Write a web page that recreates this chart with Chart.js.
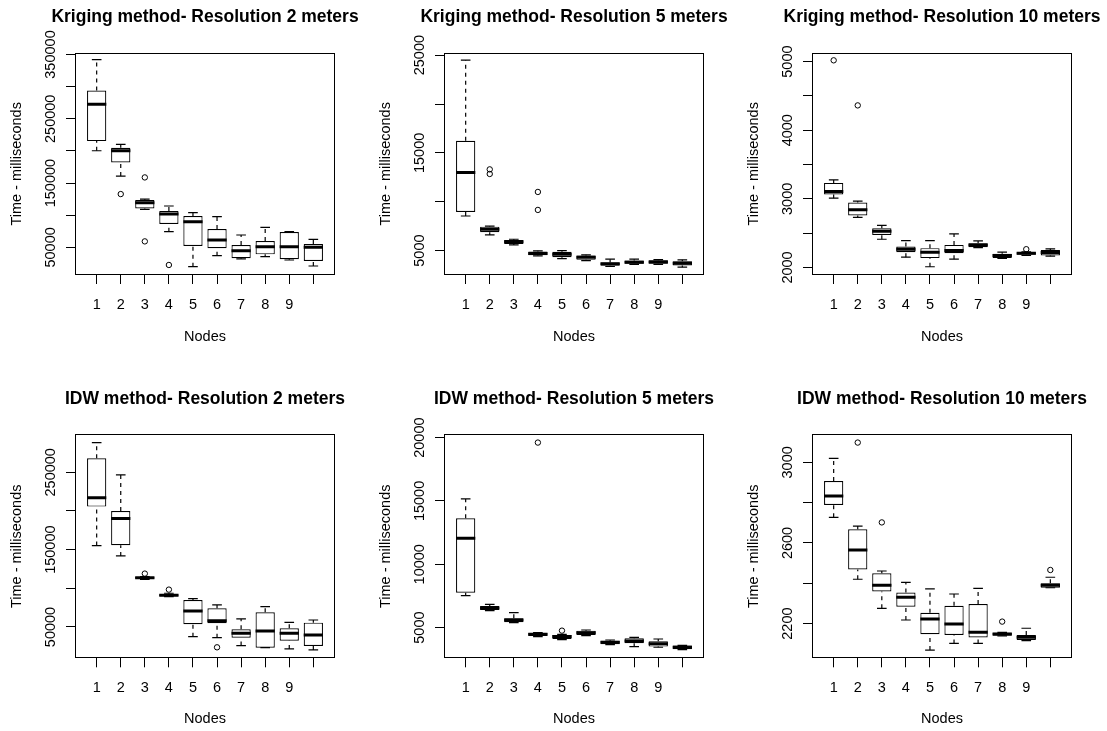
<!DOCTYPE html>
<html>
<head>
<meta charset="UTF-8">
<title>Kriging / IDW - time per node</title>
<script src="https://cdn.jsdelivr.net/npm/chart.js@4.4.0/dist/chart.umd.min.js"></script>
<style>
  body { margin: 0; background: #fff; overflow: hidden; }
  #grid { position: relative; width: 1107px; height: 731px; overflow: hidden; }
  /* canvases are a bit wider than a panel so the title centres over the plot box */
  .panel { position: absolute; width: 410px; height: 365px; }
</style>
</head>
<body>
<div id="grid">
  <div class="panel" style="left:0;top:0"><canvas id="k2" width="410" height="365"></canvas></div>
  <div class="panel" style="left:369px;top:0"><canvas id="k5" width="410" height="365"></canvas></div>
  <div class="panel" style="left:737px;top:0"><canvas id="k10" width="410" height="365"></canvas></div>
  <div class="panel" style="left:0;top:382px"><canvas id="i2" width="410" height="365"></canvas></div>
  <div class="panel" style="left:369px;top:382px"><canvas id="i5" width="410" height="365"></canvas></div>
  <div class="panel" style="left:737px;top:382px"><canvas id="i10" width="410" height="365"></canvas></div>
</div>
<script>
// nodes on the x axis (the 10th tick has no label in the original)
const nodes = [1, 2, 3, 4, 5, 6, 7, 8, 9, 10];
const nodeLabels = ['1', '2', '3', '4', '5', '6', '7', '8', '9', ''];

// Kriging, 2 m
const k2Lo  = [200300, 160900, 109000, 74400, 20000, 37100, 32000, 35500, 30300, 21000];
const k2Q1  = [215300, 182100, 110600, 86300, 52100, 48500, 33000, 39100, 31400, 28800];
const k2Med = [272800, 200300, 119400, 101800, 90000, 61400, 44800, 51000, 51000, 50000];
const k2Q3  = [294000, 204900, 123600, 106500, 98700, 78500, 53600, 59900, 74000, 55200];
const k2Hi  = [342000, 210100, 125000, 114300, 103900, 97700, 69200, 81100, 74400, 62500];
const k2Out = [[2, 132900], [3, 158800], [3, 59300], [4, 22600]];
const k2Ticks = [50000, 100000, 150000, 200000, 250000, 300000, 350000];
const k2Shown = [50000, 150000, 250000, 350000];

// Kriging, 5 m
const k5Lo  = [8540, 6600, 5580, 4460, 4180, 3980, 3370, 3580, 3580, 3300];
const k5Q1  = [8950, 6870, 5680, 4520, 4320, 4050, 3440, 3650, 3650, 3470];
const k5Med = [13000, 7180, 5890, 4700, 4630, 4320, 3650, 3810, 3840, 3710];
const k5Q3  = [16240, 7450, 6090, 4900, 4870, 4490, 3780, 3990, 4010, 3910];
const k5Hi  = [24490, 7500, 6160, 4970, 5000, 4560, 4120, 4120, 4080, 4050];
const k5Out = [[2, 13310], [2, 12840], [4, 11000], [4, 9160]];
const k5Ticks = [5000, 10000, 15000, 20000, 25000];
const k5Shown = [5000, 15000, 25000];

// Kriging, 10 m
const k10Lo  = [3010, 2730, 2411, 2150, 2010, 2121, 2290, 2131, 2174, 2165];
const k10Q1  = [3063, 2759, 2474, 2223, 2136, 2208, 2295, 2136, 2184, 2174];
const k10Med = [3107, 2841, 2527, 2266, 2223, 2247, 2329, 2174, 2208, 2218];
const k10Q3  = [3232, 2947, 2571, 2305, 2281, 2329, 2353, 2199, 2223, 2256];
const k10Hi  = [3276, 2967, 2614, 2392, 2392, 2488, 2387, 2223, 2228, 2271];
const k10Out = [[1, 5019], [2, 4362], [9, 2266]];
const k10Ticks = [2000, 2500, 3000, 3500, 4000, 4500, 5000];
const k10Shown = [2000, 3000, 4000, 5000];

// IDW, 2 m
const i2Lo  = [155200, 141800, 111600, 89200, 37500, 36200, 25900, 23300, 21600, 20300];
const i2Q1  = [205600, 155600, 112500, 89700, 53500, 54800, 36200, 23300, 32300, 25400];
const i2Med = [217200, 190100, 113800, 91000, 70700, 58200, 41800, 44800, 41800, 39700];
const i2Q3  = [268100, 200000, 114700, 92200, 84900, 74200, 47000, 69000, 48300, 55600];
const i2Hi  = [288400, 246600, 115100, 93600, 86600, 78500, 60400, 76300, 56000, 59000];
const i2Out = [[3, 119000], [4, 98300], [6, 23700]];
const i2Ticks = [50000, 100000, 150000, 200000, 250000];
const i2Shown = [50000, 150000, 250000];

// IDW, 5 m
const i5Lo  = [7520, 6340, 5390, 4290, 4050, 4370, 3660, 3500, 3450, 3260];
const i5Q1  = [7760, 6390, 5420, 4340, 4100, 4420, 3680, 3760, 3500, 3290];
const i5Med = [12050, 6550, 5600, 4470, 4290, 4600, 3840, 3940, 3730, 3450];
const i5Q3  = [13630, 6710, 5740, 4580, 4420, 4760, 3970, 4150, 3920, 3580];
const i5Hi  = [15160, 6840, 6180, 4600, 4470, 4810, 4020, 4230, 4100, 3600];
const i5Out = [[4, 19610], [5, 4760]];
const i5Ticks = [5000, 10000, 15000, 20000];
const i5Shown = [5000, 10000, 15000, 20000];

// IDW, 10 m
const i10Lo  = [2727, 2420, 2276, 2218, 2069, 2102, 2102, 2139, 2116, 2378];
const i10Q1  = [2788, 2469, 2359, 2284, 2147, 2144, 2131, 2140, 2119, 2378];
const i10Med = [2833, 2565, 2390, 2331, 2223, 2198, 2157, 2149, 2132, 2390];
const i10Q3  = [2907, 2668, 2450, 2354, 2254, 2289, 2297, 2155, 2144, 2400];
const i10Hi  = [3020, 2684, 2461, 2405, 2372, 2347, 2375, 2157, 2177, 2430];
const i10Out = [[2, 3098], [3, 2702], [8, 2210], [10, 2466]];
const i10Ticks = [2200, 2400, 2600, 2800, 3000];
const i10Shown = [2200, 2600, 3000];

const FONT = '"Liberation Sans", Arial, Helvetica, sans-serif';
const TICK_SIZE = 14.5;
const TITLE_SIZE = 17.5;
const TICK_LEN = 9;
Chart.defaults.font.family = FONT;
Chart.defaults.color = '#000';

const measureCtx = document.createElement('canvas').getContext('2d');

// thin black frame round the plot area, like R's box()
const framePlugin = {
  id: 'frame',
  afterDraw(chart) {
    const a = chart.chartArea;
    const c = chart.ctx;
    c.save();
    c.strokeStyle = '#000';
    c.lineWidth = 1;
    c.strokeRect(Math.round(a.left) + 0.5, Math.round(a.top) + 0.5,
      Math.round(a.right - a.left) - 1, Math.round(a.bottom - a.top) - 1);
    c.restore();
  }
};

// y tick labels are rotated; pad them so their centre sits ~25px left of the box
function yLabelPad(labels) {
  measureCtx.font = TICK_SIZE + 'px ' + FONT;
  const w = Math.max(...labels.map(t => measureCtx.measureText(t).width));
  return 24 - TICK_LEN - w / 2;
}

// half a box width in pixels, taken from the x scale
function halfWidth(ctx, units) {
  const s = ctx.chart.scales.x;
  return Math.abs(s.getPixelForValue(1 + units) - s.getPixelForValue(1));
}

function boxPanel(id, title, lo, q1, med, q3, hi, out, yMin, yMax, yTicks, yShown, row) {
  const whiskers = [];
  nodes.forEach((n, i) => {
    whiskers.push({x: n, y: lo[i]}, {x: n, y: q1[i]}, {x: n, y: null},
                  {x: n, y: q3[i]}, {x: n, y: hi[i]}, {x: n, y: null});
  });
  const staples = nodes.map((n, i) => ({x: n, y: lo[i]}))
    .concat(nodes.map((n, i) => ({x: n, y: hi[i]})));
  const yLabels = yTicks.map(v => yShown.includes(v) ? String(v) : '');
  const titleLine = TITLE_SIZE * 1.2;

  new Chart(document.getElementById(id), {
    type: 'bar',
    data: {
      datasets: [
        {
          type: 'scatter', order: 0,
          data: out.map(p => ({x: p[0], y: p[1]})),
          pointStyle: 'circle', pointRadius: 2.7,
          borderColor: '#000', borderWidth: 1, backgroundColor: 'rgba(0,0,0,0)'
        },
        {
          type: 'scatter', order: 1,
          data: nodes.map((n, i) => ({x: n, y: med[i]})),
          pointStyle: 'line', pointRadius: c => halfWidth(c, 0.4),
          borderColor: '#000', borderWidth: 3
        },
        {
          type: 'scatter', order: 2,
          data: staples,
          pointStyle: 'line', pointRadius: c => halfWidth(c, 0.2),
          borderColor: '#000', borderWidth: 1.2
        },
        {
          type: 'bar', order: 3,
          data: nodes.map((n, i) => ({x: n, y: [q1[i], q3[i]]})),
          backgroundColor: '#fff', borderColor: '#000', borderWidth: 1.2,
          borderSkipped: false,
          barPercentage: 0.8, categoryPercentage: 1
        },
        {
          type: 'line', order: 4,
          data: whiskers,
          borderColor: '#000', borderWidth: 1.2, borderDash: [4, 4],
          pointRadius: 0, spanGaps: false, fill: false
        }
      ]
    },
    options: {
      responsive: false,
      animation: false,
      events: [],
      layout: { padding: 0 },
      plugins: {
        legend: { display: false },
        tooltip: { enabled: false },
        title: {
          display: true, text: title, color: '#000',
          font: { size: TITLE_SIZE, weight: 'bold' },
          padding: { top: 17.5 - titleLine / 2,
                     bottom: (row === 0 ? 52.7 : 52.3) - 17.5 - titleLine / 2 }
        }
      },
      scales: {
        x: {
          type: 'linear', min: 0.1, max: 10.9, offset: false,
          afterBuildTicks: s => { s.ticks = nodes.map(v => ({value: v})); },
          afterFit: s => { s.height = row === 0 ? 90 : 88.7; },
          grid: { display: true, drawOnChartArea: false, drawTicks: true, offset: false,
                  tickLength: TICK_LEN, tickColor: '#000', tickWidth: 1 },
          border: { display: false },
          ticks: { autoSkip: false, maxRotation: 0, padding: 11.8,
                   font: { size: TICK_SIZE }, color: '#000',
                   callback: (v, i) => nodeLabels[i] },
          title: { display: true, text: 'Nodes', color: '#000',
                   font: { size: TICK_SIZE }, padding: { top: 0, bottom: 19.4 } }
        },
        y: {
          type: 'linear', min: yMin, max: yMax,
          afterBuildTicks: s => { s.ticks = yTicks.map(v => ({value: v})); },
          afterFit: s => { s.width = 75; },
          grid: { display: true, drawOnChartArea: false, drawTicks: true,
                  tickLength: TICK_LEN, tickColor: '#000', tickWidth: 1 },
          border: { display: false },
          ticks: { autoSkip: false, minRotation: 90, maxRotation: 90, crossAlign: 'center',
                   padding: yLabelPad(yLabels), font: { size: TICK_SIZE }, color: '#000',
                   callback: (v, i) => yLabels[i] },
          title: { display: true, text: 'Time - milliseconds', color: '#000',
                   font: { size: TICK_SIZE }, padding: { top: 8.4, bottom: 0 } }
        },
        // empty right-hand margin, same width as the left axis, so the title centres over the box
        yRight: {
          type: 'linear', position: 'right', display: true,
          afterFit: s => { s.width = 75; },
          grid: { display: false }, border: { display: false },
          ticks: { display: false }, title: { display: false }
        }
      }
    },
    plugins: [framePlugin]
  });
}

boxPanel('k2', 'Kriging method- Resolution 2 meters', k2Lo, k2Q1, k2Med, k2Q3, k2Hi, k2Out, 7000, 352800, k2Ticks, k2Shown, 0);
boxPanel('k5', 'Kriging method- Resolution 5 meters', k5Lo, k5Q1, k5Med, k5Q3, k5Hi, k5Out, 2500, 25250, k5Ticks, k5Shown, 0);
boxPanel('k10', 'Kriging method- Resolution 10 meters', k10Lo, k10Q1, k10Med, k10Q3, k10Hi, k10Out, 1890, 5130, k10Ticks, k10Shown, 0);
boxPanel('i2', 'IDW method- Resolution 2 meters', i2Lo, i2Q1, i2Med, i2Q3, i2Hi, i2Out, 9500, 299100, i2Ticks, i2Shown, 1);
boxPanel('i5', 'IDW method- Resolution 5 meters', i5Lo, i5Q1, i5Med, i5Q3, i5Hi, i5Out, 2576, 20263, i5Ticks, i5Shown, 1);
boxPanel('i10', 'IDW method- Resolution 10 meters', i10Lo, i10Q1, i10Med, i10Q3, i10Hi, i10Out, 2028, 3139, i10Ticks, i10Shown, 1);
</script>
</body>
</html>
